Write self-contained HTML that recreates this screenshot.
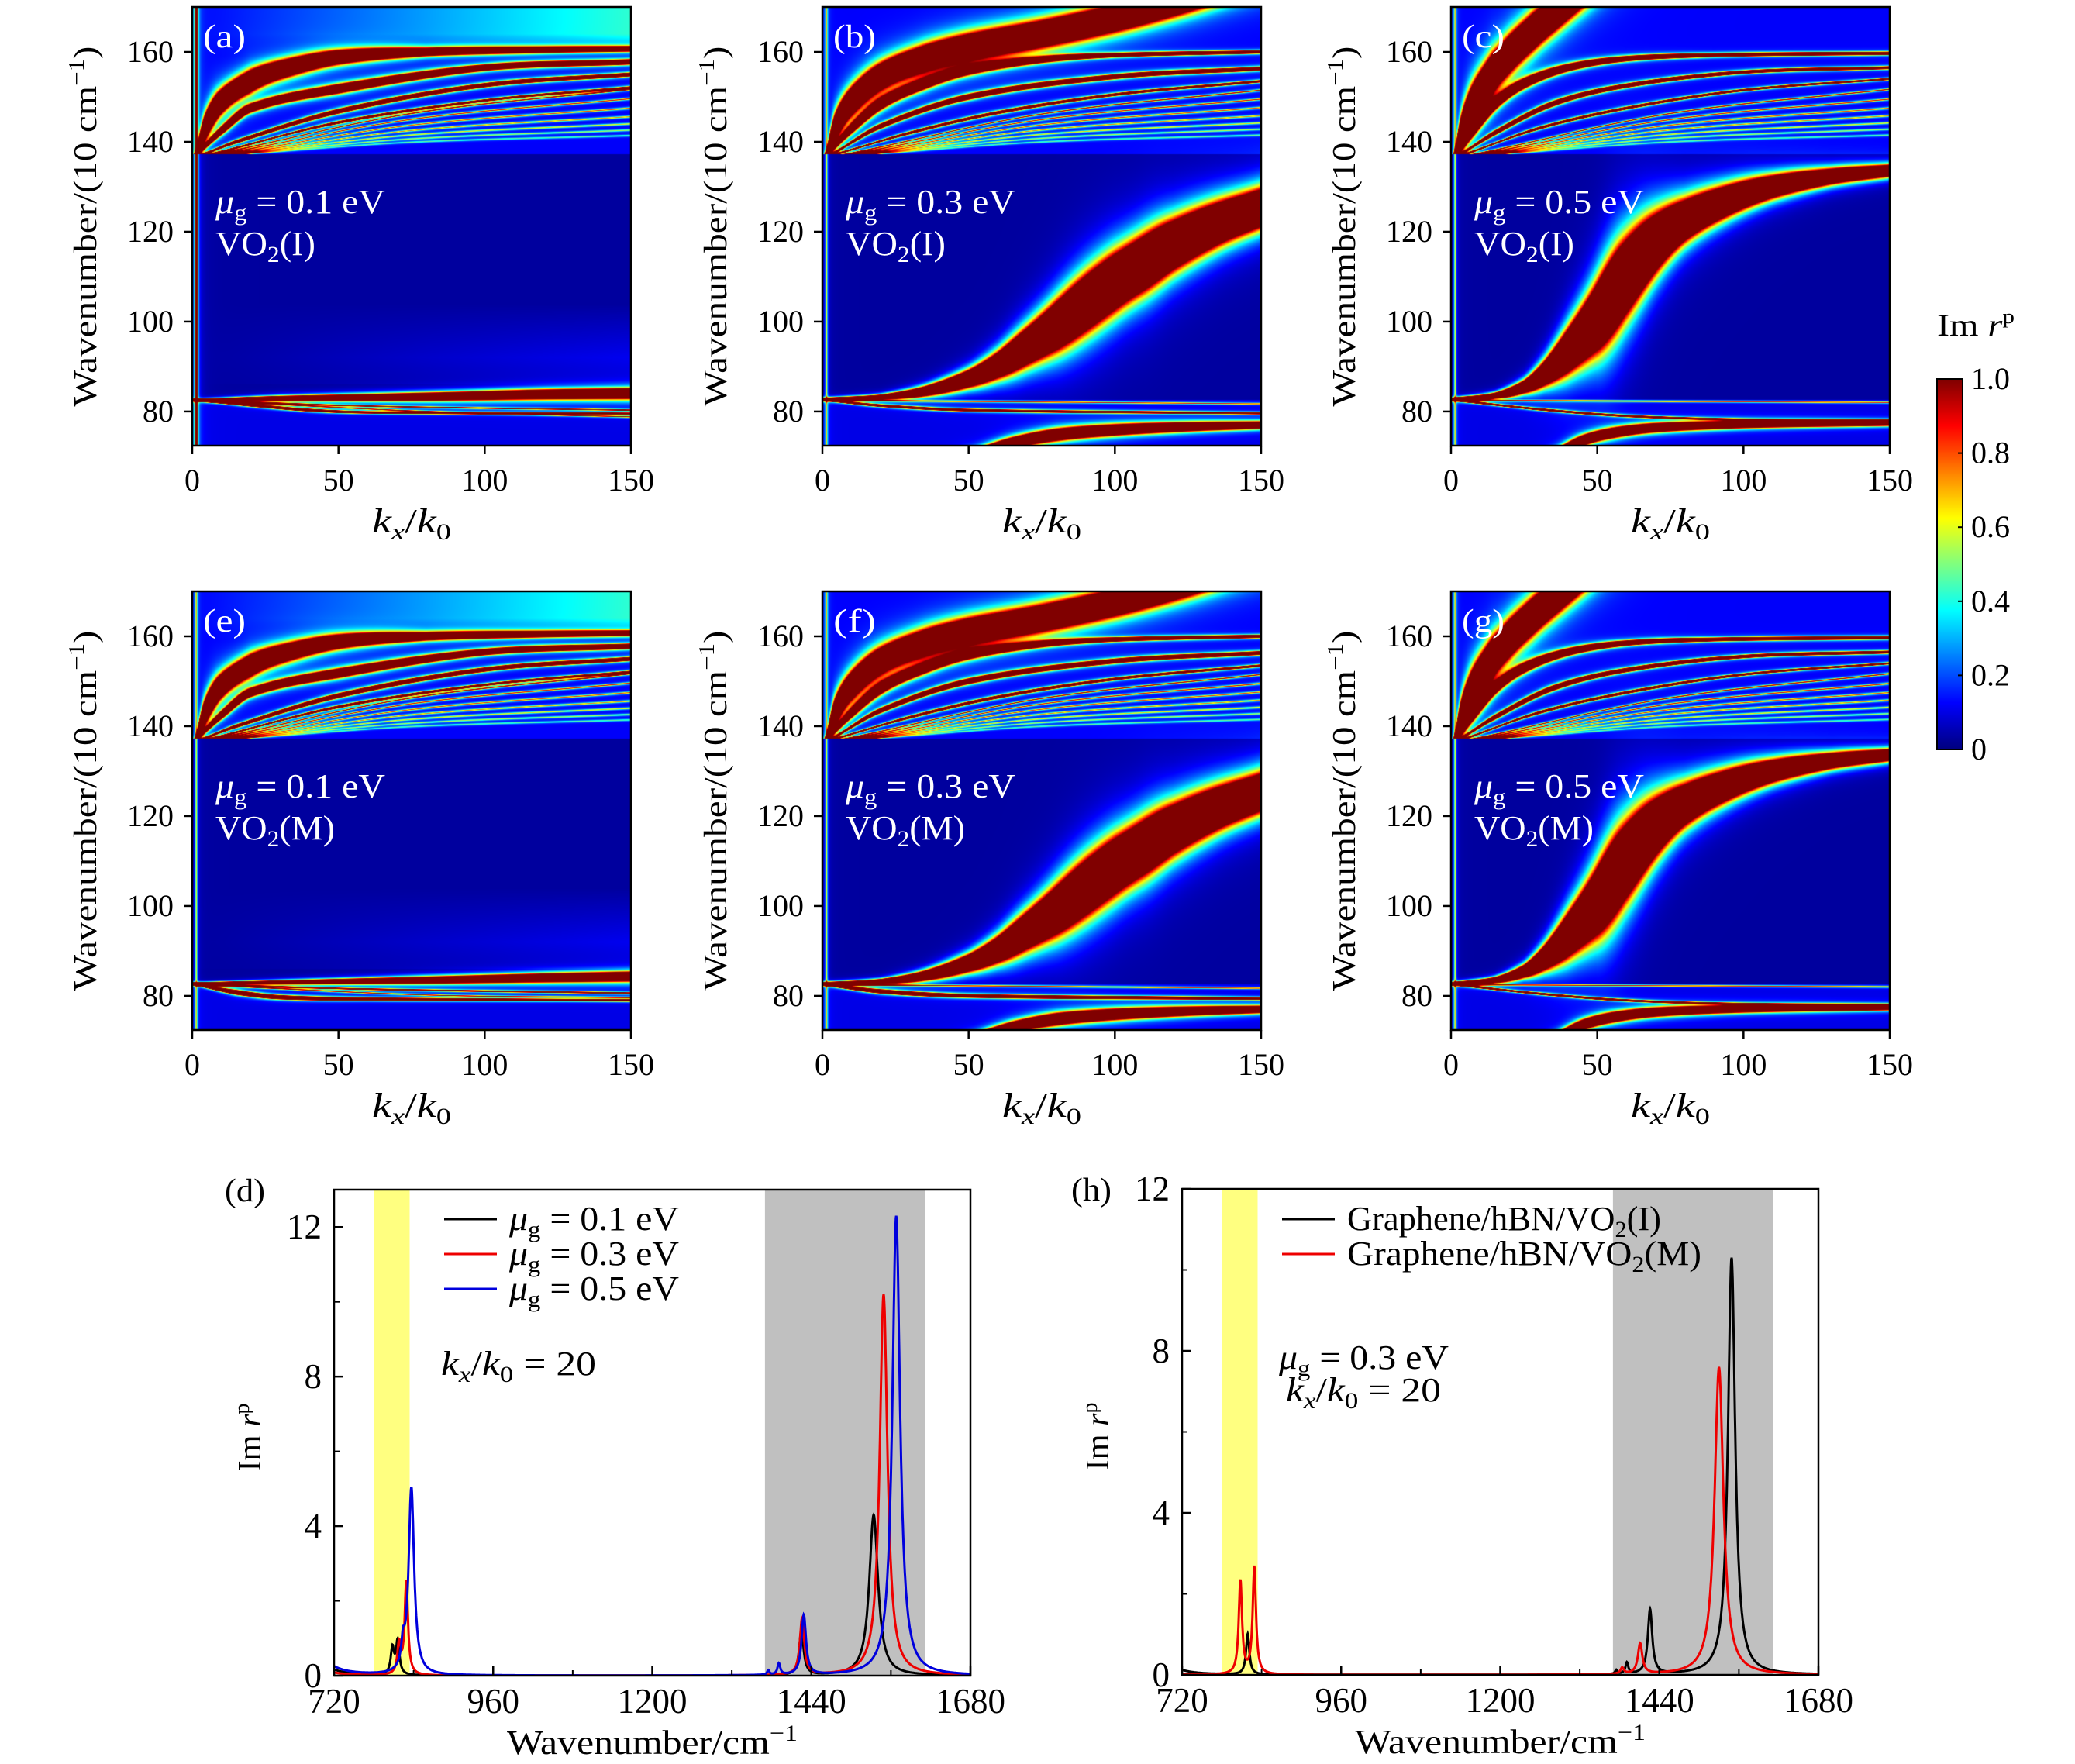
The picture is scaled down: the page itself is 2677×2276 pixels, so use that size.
<!DOCTYPE html>
<html><head><meta charset="utf-8"><title>Im r^p maps and spectra</title>
<style>
html,body{margin:0;padding:0;background:#fff;}
#root{position:relative;width:2677px;height:2276px;overflow:hidden;background:#fff;font-family:"Liberation Serif",serif;}
canvas{position:absolute;display:block;}
svg{position:absolute;left:0;top:0;}
</style></head>
<body>
<div id="root">
<svg id="svg" width="2677" height="2276" viewBox="0 0 2677 2276"></svg>
</div>
<script>
// ---------- heatmap mode data (k, wavenumber/10cm^-1, half width) ----------
const upperFaintA = [151.7,149.6,147.5,145.6,144.0,142.6,141.4];
const modesA = [
 {H:4,lo:137.2,hi:200,pts:[[1.5,137.5,0.3],[5,144,1.2],[10,149,1.8],[20,153.5,2],[30,156,1.8],[50,158.8,1.4],[80,160,0.8],[120,160.5,0.6],[150,160.7,0.5]]},
 {H:4,lo:137.2,hi:200,pts:[[2,137.5,0.2],[10,142.5,0.6],[20,147.5,0.8],[50,151.8,0.9],[100,156.5,0.6],[150,157.8,0.5]]},
 {H:3,lo:137.2,hi:200,pts:[[5,137.5,0.15],[15,140,0.35],[50,146.8,0.5],[100,152.6,0.45],[150,155,0.4]]},
 {H:2,lo:137.2,hi:200,pts:[[8,137.5,0.1],[50,144.3,0.35],[100,149.2,0.3],[150,152.1,0.3]]},
 {H:4,lo:0,hi:137,pts:[[1.5,82.6,0.2],[30,82.9,0.5],[80,83.3,0.8],[120,83.8,1.0],[150,84.0,1.1]]},
 {H:3,lo:0,hi:82.8,pts:[[1.5,82.5,0.15],[20,81.4,0.3],[40,80.3,0.3],[60,79.8,0.25],[150,79.5,0.2]]},
 {H:1.2,lo:0,hi:82.8,pts:[[5,82.4,0.1],[60,81.2,0.2],[150,80.3,0.2]]},
 {H:0.9,lo:0,hi:82.8,pts:[[5,82.4,0.1],[80,80,0.2],[150,78.8,0.2]]}
];
const modesE = [
 {H:4,lo:137.2,hi:200,pts:[[1.5,137.5,0.3],[5,144,1.2],[10,149,1.8],[20,153.5,2],[30,156,1.8],[50,158.8,1.4],[80,160,0.8],[120,160.5,0.6],[150,160.7,0.5]]},
 {H:4,lo:137.2,hi:200,pts:[[2,137.5,0.2],[10,142.5,0.6],[20,147.5,0.8],[50,151.8,0.9],[100,156.5,0.6],[150,157.8,0.5]]},
 {H:3,lo:137.2,hi:200,pts:[[5,137.5,0.15],[15,140,0.35],[50,146.8,0.5],[100,152.6,0.45],[150,155,0.4]]},
 {H:2,lo:137.2,hi:200,pts:[[8,137.5,0.1],[50,144.3,0.35],[100,149.2,0.3],[150,152.1,0.3]]},
 {H:4,lo:0,hi:137,pts:[[1.5,82.8,0.2],[30,83.0,0.4],[80,83.5,0.7],[120,84.0,0.9],[150,84.3,1.0]]},
 {H:4,lo:0,hi:82.8,pts:[[1.5,82.5,0.2],[15,80.8,0.45],[30,79.7,0.4],[60,79.3,0.3],[150,79.0,0.2]]},
 {H:1.5,lo:0,hi:82.9,pts:[[5,82.5,0.1],[60,81.5,0.25],[150,80.6,0.25]]},
 {H:0.9,lo:0,hi:82.8,pts:[[5,82.4,0.1],[80,80.2,0.2],[150,79.6,0.2]]}
];
const upperFaintB = [151.5,149.5,147.6,145.8,144.2,142.8,141.5];
const modesB = [
 {H:4,lo:137.2,hi:200,pts:[[1.5,137.5,0.3],[5,144,1.3],[10,149,2],[20,154.5,2.4],[35,158.5,2.6],[50,161,2.7],[75,164,2.7],[100,167.5,2.7],[120,171,2.7],[140,175,2.7]]},
 {H:4,lo:137.2,hi:200,pts:[[2,137.5,0.2],[10,143,0.7],[20,148.5,1],[35,153,1],[50,156,0.9],[75,158.3,0.6],[100,159.3,0.4],[150,160,0.3]]},
 {H:3,lo:137.2,hi:200,pts:[[4,137.5,0.15],[20,143.5,0.5],[50,150,0.6],[100,154.5,0.5],[150,156.3,0.4]]},
 {H:2,lo:137.2,hi:200,pts:[[6,137.5,0.1],[30,142,0.35],[60,146.5,0.4],[100,150.5,0.35],[150,153.5,0.3]]},
 {H:4,lo:0,hi:200,pts:[[0,82.7,0.3],[20,83.2,0.5],[35,84.5,1],[50,87.3,1.7],[60,90.3,2.4],[70,94.5,3.3],[80,99,4.2],[90,104,4.8],[100,108.8,5],[110,113,5],[120,117,4.7],[135,121.7,4.2],[150,125.3,3.8]]},
 {H:0.8,lo:0,hi:82.8,pts:[[1.5,82.5,0.15],[150,81.7,0.2]]},
 {H:2.5,lo:0,hi:82.8,pts:[[1.5,82.5,0.2],[20,81.3,0.3],[50,80.3,0.3],[150,79.6,0.25]]},
 {H:4,lo:0,hi:82,pts:[[52,70.5,0.9],[65,73,1.1],[80,74.8,1.2],[100,75.9,1.1],[125,76.6,0.9],[150,77,0.7]]}
];
const modesF = [
 {H:4,lo:137.2,hi:200,pts:[[1.5,137.5,0.3],[5,144,1.3],[10,149,2],[20,154.5,2.4],[35,158.5,2.6],[50,161,2.7],[75,164,2.7],[100,167.5,2.7],[120,171,2.7],[140,175,2.7]]},
 {H:4,lo:137.2,hi:200,pts:[[2,137.5,0.2],[10,143,0.7],[20,148.5,1],[35,153,1],[50,156,0.9],[75,158.3,0.6],[100,159.3,0.4],[150,160,0.3]]},
 {H:3,lo:137.2,hi:200,pts:[[4,137.5,0.15],[20,143.5,0.5],[50,150,0.6],[100,154.5,0.5],[150,156.3,0.4]]},
 {H:2,lo:137.2,hi:200,pts:[[6,137.5,0.1],[30,142,0.35],[60,146.5,0.4],[100,150.5,0.35],[150,153.5,0.3]]},
 {H:4,lo:0,hi:200,pts:[[0,82.7,0.3],[20,83.2,0.5],[35,84.5,1],[50,87.3,1.7],[60,90.3,2.4],[70,94.5,3.3],[80,99,4.2],[90,104,4.8],[100,108.8,5],[110,113,5],[120,117,4.7],[135,121.7,4.2],[150,125.3,3.8]]},
 {H:0.8,lo:0,hi:82.8,pts:[[1.5,82.5,0.15],[150,81.7,0.2]]},
 {H:4,lo:0,hi:82.8,pts:[[1.5,82.5,0.25],[20,81.0,0.4],[50,80.0,0.35],[150,79.4,0.25]]},
 {H:4,lo:0,hi:82,pts:[[52,70.5,0.9],[65,73,1.1],[80,74.8,1.2],[100,75.9,1.1],[125,76.6,0.9],[150,77,0.7]]}
];
const upperFaintC = [151.7,149.5,147.5,145.8,144.2,142.8,141.5];
const modesC = [
 {H:4,lo:137.2,hi:200,pts:[[1.5,137.5,0.3],[4,143,1.3],[8,149,2],[14,155,2.5],[20,159.5,2.7],[28,164.5,2.8],[36,169,2.8],[45,174,2.8]]},
 {H:4,lo:137.2,hi:200,pts:[[2,137.5,0.2],[8,143,0.7],[15,148.5,0.9],[25,153,0.9],[40,156.5,0.7],[60,158.5,0.5],[90,159.3,0.35],[150,159.7,0.3]]},
 {H:3,lo:137.2,hi:200,pts:[[4,137.5,0.15],[15,142,0.45],[35,148.5,0.55],[60,152.5,0.45],[100,155.5,0.35],[150,156.5,0.3]]},
 {H:2,lo:137.2,hi:200,pts:[[6,137.5,0.1],[30,143,0.35],[60,147.5,0.35],[100,151.5,0.3],[150,154,0.25]]},
 {H:4,lo:0,hi:200,pts:[[0,82.7,0.3],[15,83.5,0.6],[25,85.5,1.2],[32,88.5,2],[40,93.5,3.2],[50,101,4.5],[60,110,5],[70,117.5,4.5],[80,122.5,3.8],[95,127,3],[110,130,2.3],[130,132.3,1.6],[150,133.6,1.2]]},
 {H:2.5,lo:0,hi:82.8,pts:[[1.5,82.5,0.15],[30,80.5,0.25],[60,79,0.25],[100,78.2,0.2],[150,78,0.2]]},
 {H:0.8,lo:0,hi:82.8,pts:[[1.5,82.5,0.15],[150,82,0.2]]},
 {H:4,lo:0,hi:82,pts:[[36,70.5,0.9],[45,73.5,1],[55,75.2,1],[70,76.4,0.9],[100,77.1,0.7],[150,77.4,0.5]]}
];
const colorbarTicks = [0,0.2,0.4,0.6,0.8,1.0];
const colorbarLabels = ["0","0.2","0.4","0.6","0.8","1.0"];
const heatXTicks = [0,50,100,150];
const heatYTicks = [80,100,120,140,160];

// ---------- spectra data: peaks [center cm^-1, height, half width] ----------
const specXTicks = [720,960,1200,1440,1680];
const specXMinor = [840,1080,1320,1560];
const dYTicks = [0,4,8,12];
const hYTicks = [0,4,8,12];
const dYMinor = [2,6,10];
const dPeaksMu01 = [[690,0.4,25],[808,0.7,3],[816,0.9,3],[1425,1.2,4],[1534,4.3,8]];
const dPeaksMu03 = [[690,0.2,25],[818,0.8,3],[829,2.5,3],[1426,1.5,4],[1549,10.2,7]];
const dPeaksMu05 = [[690,0.6,25],[824,0.6,3],[836.6,5.0,5],[1375,0.12,2],[1391,0.3,2.5],[1428.6,1.6,4],[1568,12.3,7]];
const hPeaksI = [[690,0.3,25],[819,1.0,3],[1375,0.1,2],[1391,0.28,2.5],[1426,1.6,4],[1549,10.3,6.5]];
const hPeaksM = [[690,0.05,25],[808,2.3,3],[829,2.65,3],[1384,0.15,3],[1411,0.75,4],[1530,7.6,8]];
const yellowBand = [780,834];
const grayBand = [1370,1611];

// ---------- helpers ----------
const NS = "http://www.w3.org/2000/svg";
const svg = document.getElementById('svg');
const root = document.getElementById('root');
function jet(v){v=Math.max(0,Math.min(1,v));const c=x=>Math.max(0,Math.min(1,x));
 return [c(1.5-Math.abs(4*v-3))*255,c(1.5-Math.abs(4*v-2))*255,c(1.5-Math.abs(4*v-1))*255];}
function interp(pts,k){
 const n=pts.length;
 if(k<=pts[0][0]){const s=(pts[1][1]-pts[0][1])/(pts[1][0]-pts[0][0]);return [pts[0][1]+s*(k-pts[0][0]),pts[0][2]];}
 if(k>=pts[n-1][0]){const s=(pts[n-1][1]-pts[n-2][1])/(pts[n-1][0]-pts[n-2][0]);return [pts[n-1][1]+s*(k-pts[n-1][0]),pts[n-1][2]];}
 let i=0; while(i<n-2 && k>pts[i+1][0]) i++;
 const p0=pts[i],p1=pts[i+1]; const h=p1[0]-p0[0]; const t=(k-p0[0])/h;
 const sl=j=>{ if(j<=0) return (pts[1][1]-pts[0][1])/(pts[1][0]-pts[0][0]); if(j>=n-1) return (pts[n-1][1]-pts[n-2][1])/(pts[n-1][0]-pts[n-2][0]); return (pts[j+1][1]-pts[j-1][1])/(pts[j+1][0]-pts[j-1][0]);};
 const m0=sl(i)*h,m1=sl(i+1)*h; const t2=t*t,t3=t2*t;
 const w=(2*t3-3*t2+1)*p0[1]+(t3-2*t2+t)*m0+(-2*t3+3*t2)*p1[1]+(t3-t2)*m1;
 const hw=p0[2]+(p1[2]-p0[2])*t; return [w,hw];}
const PW=566,PH=566,KMAX=150,WMIN=72.4,WMAX=170;
function addEl(tag,parent){const e=document.createElementNS(NS,tag);(parent||svg).appendChild(e);return e;}
function fit(el,len){el.setAttribute('textLength',len);el.setAttribute('lengthAdjust','spacingAndGlyphs');}

function renderHeat(cfg){
 const cv=document.createElement('canvas');
 
 
 cv.width=PW;cv.height=PH;cv.style.left=cfg.x+'px';cv.style.top=cfg.y+'px';
 root.insertBefore(cv,svg);
 const ctx=cv.getContext('2d');const img=ctx.createImageData(PW,PH);const d=img.data;
 const modes=cfg.modes.slice();
 const startK=[10,12,14,16,18,20,22];
 cfg.faint.forEach((w150,i)=>{const H=0.9-i*0.09;
   modes.push({H:H,lo:137.2,hi:200,pts:[[startK[i],137.5,0.08],[75,137.5+(w150-137.5)*0.62,0.25],[150,w150,0.25]]});});
 const pxPerW=PH/(WMAX-WMIN), pxPerK=PW/KMAX;
 const cy=new Float32Array(modes.length),sf=new Float32Array(modes.length),g2=new Float32Array(modes.length);
 for(let px=0;px<PW;px++){
  const k=(px+0.5)/pxPerK;
  for(let m=0;m<modes.length;m++){
   const a=interp(modes[m].pts,k), b=interp(modes[m].pts,k+0.5);
   cy[m]=(WMAX-a[0])*pxPerW;
   const s=(b[0]-a[0])/0.5*pxPerW/pxPerK;
   sf[m]=1/(1+s*s);
   const hwp=Math.max(a[1]*pxPerW,1.3); g2[m]=hwp*hwp;
  }
  for(let py=0;py<PH;py++){
   const w=WMAX-(py+0.5)/pxPerW;
   let v = w>137.3 ? 0.12 : (w<82.6 ? 0.1 : 0.03);
   if(w>137.3 && cfg.topGlow) v+=cfg.topGlow*(k/150)*Math.max(0,Math.min(1,(w-159)/5));
   if(w<137.3 && w>86 && cfg.midGlow) v+=cfg.midGlow*(k/150)*Math.max(0,1-Math.abs(w-92)/12);
   for(let m=0;m<modes.length;m++){ const md=modes[m]; if(w<md.lo||w>md.hi) continue;
     const dy=py+0.5-cy[m]; const q=1+dy*dy*sf[m]/g2[m]; v+=md.H/(q*q); }
   const dx=(px+0.5)-1.4*pxPerK; v+=cfg.vline/(1+dx*dx/1.2);
   const c=jet(Math.min(v,1)); const o=(py*PW+px)*4; d[o]=c[0];d[o+1]=c[1];d[o+2]=c[2];d[o+3]=255;
  }
 }
 ctx.putImageData(img,0,0);
}

function heatAxes(cfg){
 const g=addEl('g');  
 const fr=addEl('rect',g);  
 fr.setAttribute('x',cfg.x);fr.setAttribute('y',cfg.y);fr.setAttribute('width',PW);fr.setAttribute('height',PH);
 fr.setAttribute('fill','none');fr.setAttribute('stroke','#000');fr.setAttribute('stroke-width','2.5');
 heatXTicks.forEach(t=>{const x=cfg.x+t/KMAX*PW;
  const l=addEl('line',g);  
  l.setAttribute('x1',x);l.setAttribute('x2',x);l.setAttribute('y1',cfg.y+PH);l.setAttribute('y2',cfg.y+PH+11);l.setAttribute('stroke','#000');l.setAttribute('stroke-width','2.5');
  const tx=addEl('text',g);  
  tx.setAttribute('x',x);tx.setAttribute('y',cfg.y+PH+58);tx.setAttribute('text-anchor','middle');tx.setAttribute('font-size','40');tx.textContent=t;});
 heatYTicks.forEach(t=>{const y=cfg.y+(WMAX-t)/(WMAX-WMIN)*PH;
  const l=addEl('line',g);  
  l.setAttribute('x1',cfg.x-11);l.setAttribute('x2',cfg.x);l.setAttribute('y1',y);l.setAttribute('y2',y);l.setAttribute('stroke','#000');l.setAttribute('stroke-width','2.5');
  const tx=addEl('text',g);  
  tx.setAttribute('x',cfg.x-24);tx.setAttribute('y',y+13);tx.setAttribute('text-anchor','end');tx.setAttribute('font-size','40');tx.textContent=t;});
 const xt=addEl('text',g);  
 xt.setAttribute('x',cfg.x+PW/2);xt.setAttribute('y',cfg.y+PH+112);xt.setAttribute('text-anchor','middle');xt.setAttribute('font-size','44');
 xt.innerHTML='<tspan font-style="italic">k</tspan><tspan font-style="italic" font-size="30" dy="9">x</tspan><tspan dy="-9">/</tspan><tspan font-style="italic">k</tspan><tspan font-size="30" dy="9">0</tspan>';
 fit(xt,102);
 const yt=addEl('text',g);  
 const cx=cfg.x-124, cyy=cfg.y+PH/2;
 yt.setAttribute('x',cx);yt.setAttribute('y',cyy);yt.setAttribute('text-anchor','middle');yt.setAttribute('font-size','42');
 yt.setAttribute('transform','rotate(-90 '+cx+' '+cyy+')');
 yt.innerHTML='Wavenumber/(10 cm<tspan dy="-16" font-size="28">−1</tspan><tspan dy="16">)</tspan>';
 fit(yt,465);
 const lb=addEl('text',g);  
 lb.setAttribute('x',cfg.x+14);lb.setAttribute('y',cfg.y+52);lb.setAttribute('fill','#fff');lb.setAttribute('font-size','42');lb.textContent='('+cfg.id+')';
 fit(lb,55);
 const mu=addEl('text',g);  
 mu.setAttribute('x',cfg.x+30);mu.setAttribute('y',cfg.y+266);mu.setAttribute('fill','#fff');mu.setAttribute('font-size','44');
 mu.innerHTML='<tspan font-style="italic">μ</tspan><tspan font-size="30" dy="9">g</tspan><tspan dy="-9"> = '+cfg.mu+' eV</tspan>';
 fit(mu,219);
 const ph=addEl('text',g);  
 ph.setAttribute('x',cfg.x+30);ph.setAttribute('y',cfg.y+320);ph.setAttribute('fill','#fff');ph.setAttribute('font-size','44');
 ph.innerHTML='VO<tspan font-size="30" dy="9">2</tspan><tspan dy="-9">('+cfg.phase+')</tspan>';
 fit(ph,cfg.phase==='I'?129:154);
}

const heatPanels=[
 {id:'a',x:248,y:9,mu:'0.1',phase:'I',modes:modesA,faint:upperFaintA,topGlow:0.3,midGlow:0.08,vline:2.2},
 {id:'b',x:1061,y:9,mu:'0.3',phase:'I',modes:modesB,faint:upperFaintB,topGlow:0,midGlow:0,vline:0.6},
 {id:'c',x:1872,y:9,mu:'0.5',phase:'I',modes:modesC,faint:upperFaintC,topGlow:0,midGlow:0,vline:0.6},
 {id:'e',x:248,y:763,mu:'0.1',phase:'M',modes:modesE,faint:upperFaintA,topGlow:0.3,midGlow:0.08,vline:0.6},
 {id:'f',x:1061,y:763,mu:'0.3',phase:'M',modes:modesF,faint:upperFaintB,topGlow:0,midGlow:0,vline:0.6},
 {id:'g',x:1872,y:763,mu:'0.5',phase:'M',modes:modesC,faint:upperFaintC,topGlow:0,midGlow:0,vline:0.6}
];
heatPanels.forEach(p=>{renderHeat(p);heatAxes(p);});

// ---------- colorbar ----------
(function(){
 const cx=2499,cy=489,cw=33,ch=478;
 const cv=document.createElement('canvas');
 
 
 cv.width=cw;cv.height=ch;cv.style.left=cx+'px';cv.style.top=cy+'px';root.insertBefore(cv,svg);
 const ctx=cv.getContext('2d');
 for(let y=0;y<ch;y++){const c=jet(1-y/(ch-1));ctx.fillStyle='rgb('+c.map(Math.round).join(',')+')';ctx.fillRect(0,y,cw,1);}
 const g=addEl('g');  
 const fr=addEl('rect',g);  
 fr.setAttribute('x',cx);fr.setAttribute('y',cy);fr.setAttribute('width',cw);fr.setAttribute('height',ch);fr.setAttribute('fill','none');fr.setAttribute('stroke','#000');fr.setAttribute('stroke-width','2');
 colorbarTicks.forEach((t,i)=>{const y=cy+ch-t*ch;
  const l=addEl('line',g);  
  l.setAttribute('x1',cx+cw-6);l.setAttribute('x2',cx+cw);l.setAttribute('y1',y);l.setAttribute('y2',y);l.setAttribute('stroke','#000');l.setAttribute('stroke-width','2');
  const tx=addEl('text',g);  
  tx.setAttribute('x',cx+cw+11);tx.setAttribute('y',y+13);tx.setAttribute('font-size','40');tx.textContent=colorbarLabels[i];});
 const t=addEl('text',g);  
 t.setAttribute('x',cx);t.setAttribute('y',433);t.setAttribute('font-size','40');
 t.innerHTML='Im <tspan font-style="italic">r</tspan><tspan dy="-16" font-size="26">p</tspan>';
 fit(t,100);
})();

// ---------- spectra panels ----------
function lsum(peaks,x){let s=0;for(const p of peaks){const u=(x-p[0])/p[2];s+=p[1]/(1+u*u);}return s;}
function specPanel(cfg){
 const X0=720,X1=1680;const L=cfg.x,T=cfg.y,W=821,Hh=627;
 const sx=v=>L+(v-X0)/(X1-X0)*W, sy=v=>T+Hh-v/cfg.ymax*Hh;
 const g=addEl('g');  
 const cp=addEl('clipPath',g); cp.setAttribute('id','clip'+cfg.id);
 const cr=addEl('rect',cp); cr.setAttribute('x',L);cr.setAttribute('y',T);cr.setAttribute('width',W);cr.setAttribute('height',Hh);
 const yb=addEl('rect',g);  
 yb.setAttribute('x',sx(yellowBand[0]));yb.setAttribute('y',T);yb.setAttribute('width',sx(yellowBand[1])-sx(yellowBand[0]));yb.setAttribute('height',Hh);yb.setAttribute('fill','#ffff80');
 const gb=addEl('rect',g);  
 gb.setAttribute('x',sx(grayBand[0]));gb.setAttribute('y',T);gb.setAttribute('width',sx(grayBand[1])-sx(grayBand[0]));gb.setAttribute('height',Hh);gb.setAttribute('fill','#c0c0c0');
 cfg.series.forEach((s,si)=>{let dstr='';for(let x=X0;x<=X1;x+=0.5){dstr+=(x===X0?'M':'L')+sx(x).toFixed(1)+' '+sy(lsum(s.peaks,x)).toFixed(1);}
  const p=addEl('path',g);  
  p.setAttribute('d',dstr);p.setAttribute('fill','none');p.setAttribute('stroke',s.color);p.setAttribute('stroke-width','3');p.setAttribute('clip-path','url(#clip'+cfg.id+')');
  const ll=addEl('line',g);  
  ll.setAttribute('x1',cfg.legX);ll.setAttribute('x2',cfg.legX+68);ll.setAttribute('y1',cfg.legY+si*45);ll.setAttribute('y2',cfg.legY+si*45);ll.setAttribute('stroke',s.color);ll.setAttribute('stroke-width','3');
  const lt=addEl('text',g);  
  lt.setAttribute('x',cfg.legX+84);lt.setAttribute('y',cfg.legY+si*45+14);lt.setAttribute('font-size','44');lt.innerHTML=s.label;
  fit(lt,s.len);});
 const fr=addEl('rect',g);  
 fr.setAttribute('x',L);fr.setAttribute('y',T);fr.setAttribute('width',W);fr.setAttribute('height',Hh);fr.setAttribute('fill','none');fr.setAttribute('stroke','#000');fr.setAttribute('stroke-width','2.5');
 specXTicks.forEach(t=>{const x=sx(t);
  const l=addEl('line',g);  
  l.setAttribute('x1',x);l.setAttribute('x2',x);l.setAttribute('y1',T+Hh-12);l.setAttribute('y2',T+Hh);l.setAttribute('stroke','#000');l.setAttribute('stroke-width','2.5');
  const tx=addEl('text',g);  
  tx.setAttribute('x',x);tx.setAttribute('y',T+Hh+48);tx.setAttribute('text-anchor','middle');tx.setAttribute('font-size','45');tx.textContent=t;});
 specXMinor.forEach(t=>{const x=sx(t);
  const l=addEl('line',g);  
  l.setAttribute('x1',x);l.setAttribute('x2',x);l.setAttribute('y1',T+Hh-7);l.setAttribute('y2',T+Hh);l.setAttribute('stroke','#000');l.setAttribute('stroke-width','2');});
 cfg.yticks.forEach(t=>{const y=sy(t);
  const l=addEl('line',g);  
  l.setAttribute('x1',L);l.setAttribute('x2',L+12);l.setAttribute('y1',y);l.setAttribute('y2',y);l.setAttribute('stroke','#000');l.setAttribute('stroke-width','2.5');
  const tx=addEl('text',g);  
  tx.setAttribute('x',L-16);tx.setAttribute('y',y+15);tx.setAttribute('text-anchor','end');tx.setAttribute('font-size','45');tx.textContent=t;});
 dYMinor.forEach(t=>{const y=sy(t);
  const l=addEl('line',g);  
  l.setAttribute('x1',L);l.setAttribute('x2',L+7);l.setAttribute('y1',y);l.setAttribute('y2',y);l.setAttribute('stroke','#000');l.setAttribute('stroke-width','2');});
 const xt=addEl('text',g);  
 xt.setAttribute('x',L+W/2);xt.setAttribute('y',T+Hh+101);xt.setAttribute('text-anchor','middle');xt.setAttribute('font-size','44');
 xt.innerHTML='Wavenumber/cm<tspan dy="-17" font-size="30">−1</tspan>';
 fit(xt,375);
 const yt=addEl('text',g);  
 const cx=L-95,cyy=T+Hh/2+6;
 yt.setAttribute('x',cx);yt.setAttribute('y',cyy);yt.setAttribute('text-anchor','middle');yt.setAttribute('font-size','42');yt.setAttribute('transform','rotate(-90 '+cx+' '+cyy+')');
 yt.innerHTML='Im <tspan font-style="italic">r</tspan><tspan dy="-15" font-size="28">p</tspan>';
 fit(yt,88);
 const lb=addEl('text',g);  
 lb.setAttribute('x',cfg.lblX);lb.setAttribute('y',T+15);lb.setAttribute('font-size','42');lb.textContent='('+cfg.id+')';
 fit(lb,52);
 cfg.notes.forEach((n,i)=>{const t=addEl('text',g);  
  t.setAttribute('x',n[0]);t.setAttribute('y',n[1]);t.setAttribute('font-size','44');t.innerHTML=n[2];fit(t,n[3]);});
}
const kNote='<tspan font-style="italic">k</tspan><tspan font-style="italic" font-size="30" dy="9">x</tspan><tspan dy="-9">/</tspan><tspan font-style="italic">k</tspan><tspan font-size="30" dy="9">0</tspan><tspan dy="-9"> = 20</tspan>';
const muLbl=v=>'<tspan font-style="italic">μ</tspan><tspan font-size="30" dy="9">g</tspan><tspan dy="-9"> = '+v+' eV</tspan>';
specPanel({id:'d',x:431,y:1535,ymax:13,yticks:dYTicks,lblX:290,legX:573,legY:1573,
 series:[{key:'mu-0.1',color:'#000',peaks:dPeaksMu01,label:muLbl('0.1'),len:219},{key:'mu-0.3',color:'#e00',peaks:dPeaksMu03,label:muLbl('0.3'),len:219},{key:'mu-0.5',color:'#00d',peaks:dPeaksMu05,label:muLbl('0.5'),len:219}],
 notes:[[569,1774,kNote,200]]});
specPanel({id:'h',x:1525,y:1534,ymax:12,yticks:hYTicks,lblX:1382,legX:1654,legY:1573,
 series:[{key:'vo2-I',color:'#000',peaks:hPeaksI,label:'Graphene/hBN/VO<tspan font-size="30" dy="9">2</tspan><tspan dy="-9">(I)</tspan>',len:405},{key:'vo2-M',color:'#e00',peaks:hPeaksM,label:'Graphene/hBN/VO<tspan font-size="30" dy="9">2</tspan><tspan dy="-9">(M)</tspan>',len:457}],
 notes:[[1650,1766,muLbl('0.3'),219],[1659,1808,kNote,200]]});
</script>
</body></html>
